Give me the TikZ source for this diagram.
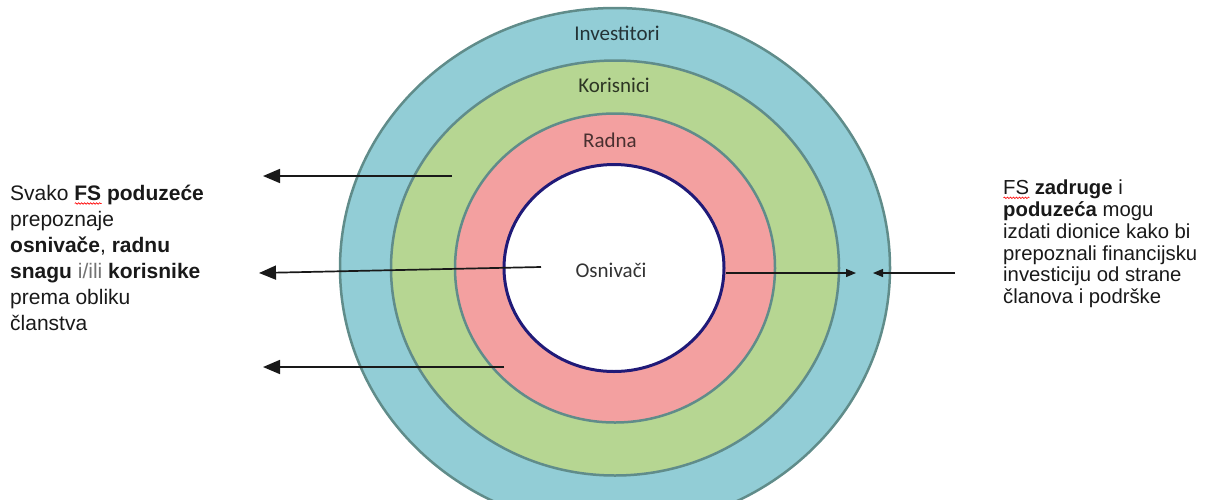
\documentclass[tikz,border=0pt]{standalone}
\usepackage{fontspec}
\setmainfont{Liberation Sans}
\newfontfamily\calibri{Carlito}
\usetikzlibrary{arrows.meta,shapes.geometric,decorations.pathmorphing}
\definecolor{ringblue}{RGB}{146,205,214}
\definecolor{ringgreen}{RGB}{182,214,146}
\definecolor{ringpink}{RGB}{243,160,160}
\definecolor{ringedge}{RGB}{96,140,138}
\definecolor{navyline}{RGB}{32,26,120}
\newsavebox\wavebox
\newcommand\spellwave[1]{\sbox\wavebox{#1}\rlap{\raisebox{-4pt}{\tikz\draw[red,line width=0.6pt,decorate,decoration={snake,amplitude=0.8pt,segment length=3pt}] (0pt,0pt) -- (\wd\wavebox,0pt);}}\usebox\wavebox}

\begin{document}
\begin{tikzpicture}[x=1pt,y=-1pt,
	ring/.style={draw=ringedge,line width=2.5pt,ellipse,inner sep=0pt},
	ringlabel/.style={font=\calibri\fontsize{21}{24}\selectfont,anchor=base},
	pointer/.style={draw=black!90,line width=1.7pt,-{Triangle[length=17pt,width=14pt]}},
	smallpointer/.style={draw=black!90,line width=1.2pt,-{Triangle[length=10pt,width=8pt]}},
	note/.style={font=\fontsize{21}{26}\selectfont,text=black!90,align=left,anchor=north west,inner sep=0pt}]
	\useasboundingbox (0,0) rectangle (1218,499);
	\node[ring,fill=ringblue,minimum width=550pt,minimum height=520pt] at (615,268) (inv) {};
	\node[ring,fill=ringgreen,minimum width=448pt,minimum height=415pt] at (615,268) (kor) {};
	\node[ring,fill=ringpink,minimum width=320pt,minimum height=309pt] at (615,268) (rad) {};
	\node[ellipse,draw=navyline,line width=3pt,fill=white,minimum width=220pt,minimum height=207pt] at (614,268) (osn) {};
	\node[ringlabel,text=ringblue!25!black] at (617,40) (invl) {Investitori};
	\node[ringlabel,text=ringgreen!25!black] at (614,92) (korl) {Korisnici};
	\node[ringlabel,text=ringpink!30!black] at (610,147) (radl) {Radna};
	\node[ringlabel,text=black!80] at (611,277) (osnl) {Osnivači};
	\coordinate (a1) at (452,176);
	\coordinate (b1) at (263,176);
	\coordinate (a2) at (541,267);
	\coordinate (b2) at (259,273);
	\coordinate (a3) at (504,367);
	\coordinate (b3) at (263,367);
	\draw[pointer] (a1) -- (b1);
	\draw[pointer] (a2) -- (b2);
	\draw[pointer] (a3) -- (b3);
	\coordinate (c1) at (856,273);
	\coordinate (d1) at (955,273);
	\coordinate (c2) at (873,273);
	\draw[smallpointer] ([yshift=-5pt]osn.east) -- (c1);
	\draw[smallpointer] (d1) -- (c2);
	\node[note] at (10,185) (left) {Svako \textbf{\spellwave{FS} poduzeće}\\prepoznaje\\\textbf{osnivače}, \textbf{radnu}\\\textbf{snagu} {\color{black!55}i/ili} \textbf{korisnike}\\prema obliku\\članstva};
	\node[note,font=\fontsize{20.3}{21.7}\selectfont] at (1003,180) (right) {\spellwave{FS} \textbf{zadruge} i\\\textbf{poduzeća} mogu\\izdati dionice kako bi\\prepoznali financijsku\\investiciju od strane\\članova i podrške};
\end{tikzpicture}
\end{document}
